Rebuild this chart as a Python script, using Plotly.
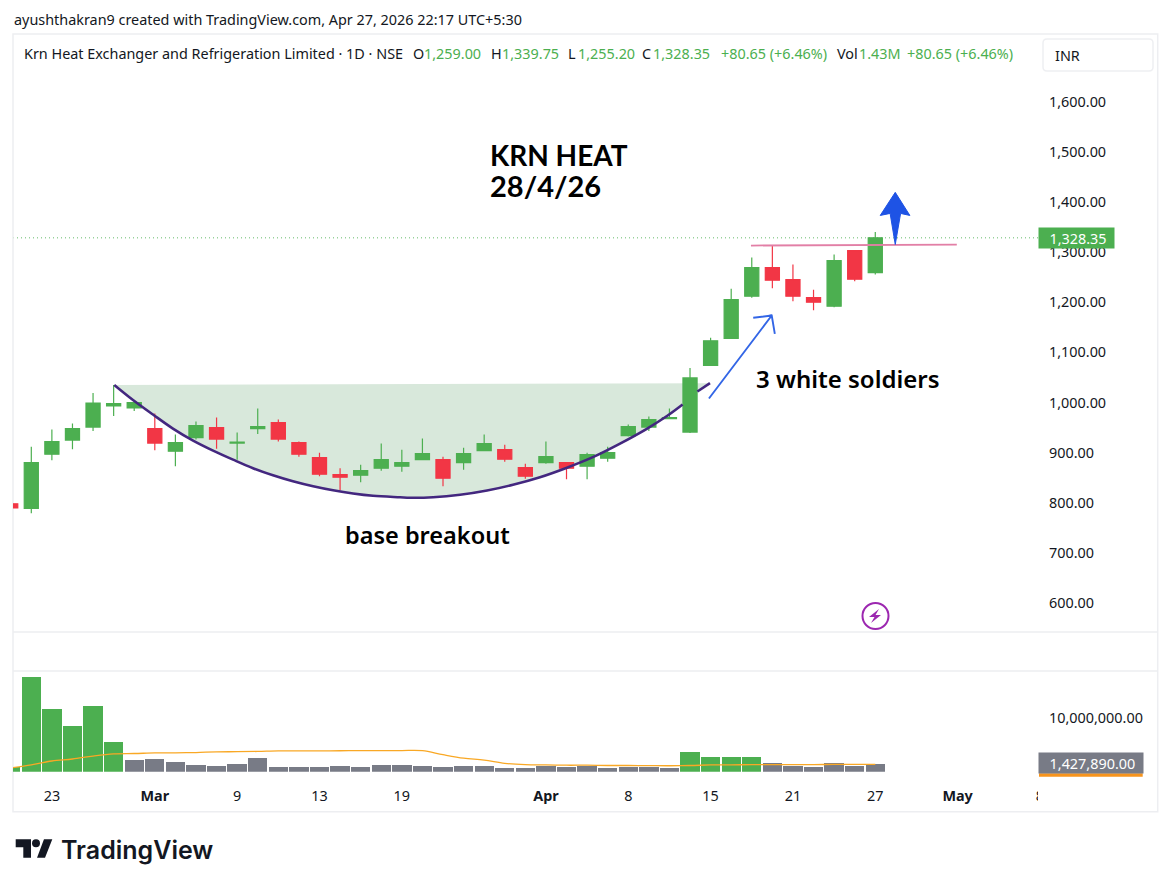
import plotly.graph_objects as go

W, H = 1171, 887

# ---- data ----
idx = list(range(-1, 42))
opens = [798, 789, 897, 925, 951, 993, 989, 948, 903, 930, 950, 919, 948, 960, 920, 890, 856, 855, 869, 873, 886, 886,
         880, 904, 906, 870, 880, 880, 873, 889, 934, 951, 968, 941, 1074, 1128, 1212, 1269, 1245, 1209, 1192, 1303, 1259]
highs = [798, 912, 946, 958, 1019, 1035, 1000, 978, 936, 962, 970, 940, 988, 966, 922, 900, 869, 876, 918, 906, 928, 892,
         910, 936, 916, 878, 922, 880, 900, 912, 956, 972, 988, 1069, 1129, 1227, 1289, 1313, 1275, 1225, 1295, 1303, 1339.75]
lows = [790, 779, 885, 907, 943, 973, 983, 905, 873, 926, 908, 886, 937, 922, 892, 853, 825, 841, 864, 862, 886, 833,
        866, 904, 882, 848, 878, 847, 847, 882, 932, 943, 967, 939, 1074, 1128, 1209, 1228, 1202, 1184, 1190, 1242, 1255.2]
closes = [790, 880, 922, 948, 999, 998, 1000, 919, 920, 954, 927, 921, 952, 927, 897, 857, 851, 864, 886, 880, 898, 849,
          898, 918, 887, 853, 892, 869, 896, 900, 952, 966, 970, 1049, 1123, 1205, 1269, 1244, 1212, 1200, 1283, 1246, 1328.35]
volumes = [0.8, 17.6, 11.6, 8.45, 12.2, 5.5, 2.16, 2.35, 1.8, 1.23, 1.05, 1.42, 2.53, 0.86, 0.86, 0.86, 1.05, 0.86, 1.23, 1.23, 1.05, 0.86,
           1.05, 1.05, 0.68, 0.68, 1.05, 0.93, 1.05, 0.74, 0.93, 0.93, 0.74, 3.64, 2.7, 2.7, 2.7, 1.6, 1.05, 0.86, 1.6, 1.05, 1.42789]
vol_ma = [0.68, 1.25, 1.98, 2.35, 2.9, 3.3, 3.37, 3.48, 3.5, 3.55, 3.67, 3.7, 3.75, 3.85, 3.85, 3.87, 3.88, 3.9, 3.9, 3.92, 3.9, 3.15,
          2.5, 2.15, 1.55, 1.3, 1.25, 1.2, 1.2, 1.15, 1.15, 1.12, 1.1, 1.15, 1.25, 1.27, 1.3, 1.3, 1.32, 1.32, 1.35, 1.35, 1.35]
vol_green = [-1, 0, 1, 2, 3, 4, 32, 33, 34, 35]

tick_idx = [1, 6, 10, 14, 18, 25, 29, 33, 37, 41, 45, 49]
tick_txt = ["23", "<b>Mar</b>", "9", "13", "19", "<b>Apr</b>", "8", "15", "21", "27", "<b>May</b>", "8"]
price_ticks = [600, 700, 800, 900, 1000, 1100, 1200, 1300, 1400, 1500, 1600]
vol_ticks = [10]
vol_tick_txt = ["10,000,000.00"]

cup_x = [4.03, 4.94, 5.91, 6.88, 7.86, 8.83, 9.80, 10.77, 11.74, 12.71, 13.69, 14.66, 15.63, 16.6, 17.91, 18.4, 19.52,
         20.83, 22.14, 23.4, 24.71, 26.02, 27.28, 28.6, 29.9, 30.88, 31.64, 32.36, 32.97]
cup_y = [1035, 1005, 976, 948, 924, 904, 886, 869, 855, 843, 833, 825, 818.6, 814, 811, 810, 811,
         816, 824.5, 836, 851, 870, 891, 918, 947.5, 973, 996, 1022, 1038.5]
arrow_x = [32.92, 35.97, 35.07, 35.97, 36.12]
arrow_y = [1008, 1173.5, 1169, 1173.5, 1137]
big_arrow_x = [41.97, 42.68, 42.23, 41.97, 41.72, 41.24, 41.97]
big_arrow_y = [1419, 1373, 1377, 1315, 1377, 1373, 1419]
level_x = [34.96, 44.96]
level_y = [1313, 1315]
last_close = 1328.35
last_volume = 1.42789

GREEN, RED, GRAY = "#4CAF50", "#F23645", "#787B86"
TXT = "#131722"
FONT = "Noto Sans"
DRAW = "Lato"
FS = 14.4

def px(x):
    return x / W
def py(y):
    return 1 - y / H

fig = go.Figure()
fig.add_trace(go.Bar(x=idx, y=volumes, width=0.94, xaxis="x", yaxis="y",
                     marker=dict(color=[GREEN if i in vol_green else GRAY for i in idx], line_width=0),
                     hoverinfo="skip", showlegend=False))
fig.add_trace(go.Scatter(x=idx, y=vol_ma, xaxis="x", yaxis="y", mode="lines",
                         line=dict(color="#F9A825", width=1.3, shape="spline"), showlegend=False))
fig.add_trace(go.Candlestick(x=idx, open=opens, high=highs, low=lows, close=closes, xaxis="x2", yaxis="y2",
                             whiskerwidth=0, showlegend=False,
                             increasing=dict(line=dict(color=GREEN, width=1.2), fillcolor=GREEN),
                             decreasing=dict(line=dict(color=RED, width=1.2), fillcolor=RED)))
# the curve passes behind the breakout candle: leave a gap over its body
line_x = cup_x[:-2] + [None] + cup_x[-2:]
line_y = cup_y[:-2] + [None] + cup_y[-2:]
fig.add_trace(go.Scatter(x=line_x, y=line_y, xaxis="x2", yaxis="y2", mode="lines", connectgaps=False,
                         line=dict(color="#43277F", width=2.6, shape="spline"), showlegend=False))
fig.add_trace(go.Scatter(x=arrow_x, y=arrow_y, xaxis="x2", yaxis="y2", mode="lines",
                         line=dict(color="#3366E6", width=1.9), showlegend=False))
fig.add_trace(go.Scatter(x=level_x, y=level_y, xaxis="x2", yaxis="y2", mode="lines",
                         line=dict(color="#E27FA6", width=1.8), showlegend=False))
fig.add_trace(go.Scatter(x=big_arrow_x, y=big_arrow_y, xaxis="x2", yaxis="y2", mode="lines", fill="toself",
                         fillcolor="#1E53E5", line=dict(color="#1E53E5", width=1), showlegend=False))

# pane geometry (pixels)
L, R = 13, 1045
xr = [(L - 31.3) / 20.585, (R - 31.3) / 20.585]
P_T, P_B = 34, 632
V_T, V_B = 671, 771.7
pr = [1000 - (P_B - 402.5) / 0.5015, 1000 + (402.5 - P_T) / 0.5015]
vr = [0, (V_B - V_T) / 5.4]

shapes = []
path = "M " + " L ".join(f"{a},{b}" for a, b in zip(cup_x, cup_y)) + " Z"
shapes.append(dict(type="path", path=path, xref="x2", yref="y2", layer="below", fillcolor="#D8E8DB", line_width=0))
shapes.append(dict(type="line", xref="paper", yref="y2", x0=px(13), x1=px(1039), y0=last_close, y1=last_close,
                   layer="below", line=dict(color="#66BB6A", width=1, dash="1px,3px")))
FR = "#EDEEF1"
shapes.append(dict(type="rect", xref="paper", yref="paper", x0=px(13), x1=px(1157.7), y0=py(34), y1=py(811.7),
                   line=dict(color=FR, width=1.5), layer="below"))
for yy in (632, 671):
    shapes.append(dict(type="line", xref="paper", yref="paper", x0=px(13), x1=px(1157.7), y0=py(yy), y1=py(yy),
                       line=dict(color=FR, width=1.5), layer="below"))
shapes.append(dict(type="rect", xref="paper", yref="paper", x0=px(1038), x1=px(1060), y0=py(782), y1=py(808),
                   fillcolor="white", line_width=0, layer="above"))
shapes.append(dict(type="path", xref="paper", yref="paper", line=dict(color="#EEEFF2", width=1.5), fillcolor="white",
                   path=f"M {px(1047)},{py(39)} L {px(1149)},{py(39)} Q {px(1153)},{py(39)} {px(1153)},{py(43)} "
                        f"L {px(1153)},{py(67)} Q {px(1153)},{py(71)} {px(1149)},{py(71)} L {px(1047)},{py(71)} "
                        f"Q {px(1043)},{py(71)} {px(1043)},{py(67)} L {px(1043)},{py(43)} Q {px(1043)},{py(39)} {px(1047)},{py(39)} Z"))
shapes.append(dict(type="rect", xref="paper", yref="paper", x0=px(1039), x1=px(1142.7), y0=py(773.3), y1=py(776.7),
                   fillcolor="#F7941D", line_width=0))
shapes.append(dict(type="circle", xref="paper", yref="paper", x0=px(862.5), x1=px(888.5), y0=py(603), y1=py(629),
                   line=dict(color="#9C27B0", width=2), fillcolor="white"))
shapes.append(dict(type="path", xref="paper", yref="paper", fillcolor="#9C27B0", line_width=0,
                   path=f"M {px(879)},{py(609)} L {px(869)},{py(617)} L {px(874.5)},{py(617)} L {px(871)},{py(623)} "
                        f"L {px(881)},{py(615)} L {px(875.5)},{py(615)} Z"))
K = "#131722"
shapes.append(dict(type="path", xref="paper", yref="paper", fillcolor=K, line_width=0,
                   path=f"M {px(15.7)},{py(839.3)} L {px(31)},{py(839.3)} L {px(31)},{py(857.7)} L {px(23.3)},{py(857.7)} "
                        f"L {px(23.3)},{py(847.3)} L {px(15.7)},{py(847.3)} Z"))
shapes.append(dict(type="circle", xref="paper", yref="paper", fillcolor=K, line_width=0,
                   x0=px(32), x1=px(40), y0=py(839.3), y1=py(847.3)))
shapes.append(dict(type="path", xref="paper", yref="paper", fillcolor=K, line_width=0,
                   path=f"M {px(44)},{py(839.3)} L {px(52.3)},{py(839.3)} L {px(45)},{py(857.7)} L {px(37)},{py(857.7)} Z"))

def label(x, y, text, size=FS, color=TXT, family=FONT, anchor="left", weight=None, **kw):
    f = dict(size=size, color=color, family=family)
    if weight:
        f["weight"] = weight
    return dict(xref="paper", yref="paper", x=px(x), y=py(y), text=text, showarrow=False, xanchor=anchor,
                yanchor="middle", font=f, borderpad=0, **kw)

ann = [
    label(13, 19, "ayushthakran9 created with TradingView.com, Apr 27, 2026 22:17 UTC+5:30"),
    label(23, 54, "Krn Heat Exchanger and Refrigeration Limited · 1D · NSE"),
    label(412, 54, "O"), label(423, 54, "1,259.00", color=GREEN),
    label(490, 54, "H"), label(501, 54, "1,339.75", color=GREEN),
    label(567, 54, "L"), label(577, 54, "1,255.20", color=GREEN),
    label(641, 54, "C"), label(652, 54, "1,328.35", color=GREEN),
    label(720, 54, "+80.65 (+6.46%)", color=GREEN),
    label(836, 54, "Vol"), label(858, 54, "1.43M", color=GREEN),
    label(906, 54, "+80.65 (+6.46%)", color=GREEN),
    label(1054, 55, "INR"),
    label(489, 155, "KRN HEAT", 28, "#000000", DRAW, weight=700),
    label(489, 186, "28/4/26", 29, "#000000", DRAW, weight=700),
    label(344, 535, "base breakout", 23.5, "#000000", "Noto Sans", weight=600),
    label(755, 378, "3 white soldiers", 24, "#000000", "Noto Sans", weight=600),
    label(60, 850, "TradingView", 25, K, "Inter", weight=600),
    dict(xref="paper", yref="y2", x=px(1076.5), y=last_close, text=f"{last_close:,.2f}&nbsp;&nbsp;", showarrow=False,
         xanchor="center", yanchor="middle", align="right", bgcolor=GREEN, width=75, height=20, borderpad=0,
         font=dict(size=FS, color="white", family=FONT)),
    dict(xref="paper", yref="paper", x=px(1090.85), y=py(763.3), text=f"{last_volume*1e6:,.2f}&nbsp;&nbsp;", showarrow=False,
         xanchor="center", yanchor="middle", align="right", bgcolor=GRAY, width=103.7, height=20, borderpad=0,
         font=dict(size=FS, color="white", family=FONT)),
]

axis_common = dict(showgrid=False, zeroline=False, showline=False)
fig.update_layout(
    width=W, height=H, autosize=False, margin=dict(l=0, r=0, t=0, b=0),
    paper_bgcolor="white", plot_bgcolor="rgba(0,0,0,0)", bargap=0, boxgap=0.02, dragmode=False, showlegend=False,
    hovermode=False, font=dict(family=FONT, size=13, color=TXT),
    shapes=shapes, annotations=ann,
    xaxis=dict(domain=[px(L), px(R)], range=xr, anchor="y", tickmode="array", tickvals=tick_idx, ticktext=tick_txt,
               ticks="", ticklabelstandoff=14, tickfont=dict(size=FS, color=TXT, family=FONT), **axis_common),
    xaxis2=dict(domain=[px(L), px(R)], range=xr, anchor="y2", matches="x", showticklabels=False, ticks="", **axis_common),
    yaxis=dict(domain=[py(V_B), py(V_T)], range=vr, anchor="x", side="right", tickmode="array", tickvals=vol_ticks,
               ticktext=vol_tick_txt, ticks="", ticklabelstandoff=3, tickfont=dict(size=FS, color=TXT, family=FONT), **axis_common),
    yaxis2=dict(domain=[py(P_B), py(P_T)], range=pr, anchor="x2", side="right", tickmode="array", tickvals=price_ticks,
                tickformat=",.2f", ticks="", ticklabelstandoff=3, tickfont=dict(size=FS, color=TXT, family=FONT), **axis_common),
)
fig.update_xaxes(rangeslider_visible=False)

fig.write_html("out.html", config=dict(displayModeBar=False),
               post_script="document.body.style.margin='0';document.body.style.overflow='hidden';")
